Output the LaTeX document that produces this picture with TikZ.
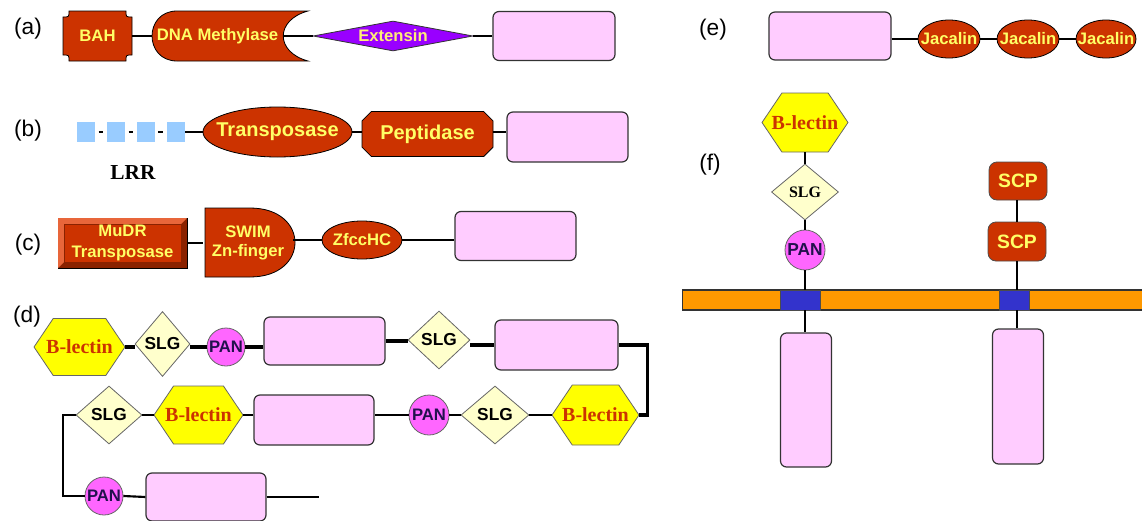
\documentclass[tikz,border=0pt]{standalone}
\usepackage{fontspec}
\setmainfont{Liberation Sans}
\newfontfamily\seriffam{Liberation Serif}
\usetikzlibrary{shapes,backgrounds}
\definecolor{domred}{HTML}{CC3300}
\definecolor{domtext}{HTML}{FFFF66}
\definecolor{exttext}{HTML}{FFEE77}
\definecolor{extpurple}{HTML}{9900FF}
\definecolor{pinkfill}{HTML}{FFCCFF}
\definecolor{boxline}{HTML}{333333}
\definecolor{lrrblue}{HTML}{99CCFF}
\definecolor{hexyellow}{HTML}{FFFF00}
\definecolor{slgfill}{HTML}{FFFFCC}
\definecolor{panfill}{HTML}{FF66FF}
\definecolor{pantext}{HTML}{22114D}
\definecolor{orangebar}{HTML}{FF9900}
\definecolor{tmblue}{HTML}{3333CC}
\definecolor{bevlight}{HTML}{E8663A}
\definecolor{bevdark}{HTML}{8A2200}
\newcommand{\ctext}[1]{\makebox[0pt]{#1}}% text that does not widen its node
\tikzset{
  px/.style 2 args = {minimum width=#1*0.75pt, minimum height=#2*0.75pt},
  dom/.style = {align=center, inner sep=0pt, text centered, text=domtext,
    font=\bfseries\fontsize{12.5}{14}\selectfont},
  redell/.style = {dom, ellipse, fill=domred, draw=black, line width=0.6pt},% ellipse domain
  octo/.style = {dom, chamfered rectangle, chamfered rectangle xsep=9.75pt,
    fill=domred, draw=black, line width=0.6pt},% chamfered domain
  pinkbox/.style = {rectangle, rounded corners=4.5pt, draw=boxline,
    line width=0.9pt, fill=pinkfill, inner sep=0pt},
  hexa/.style = {signal, signal to=east and west, signal pointer angle=112,
    fill=hexyellow, draw=black!60, line width=0.6pt, inner sep=0pt, text=domred,
    font=\seriffam\bfseries\fontsize{15}{16}\selectfont},% B-lectin
  slg/.style = {diamond, fill=slgfill, draw=black!60, line width=0.6pt,
    inner sep=0pt, font=\bfseries\fontsize{13}{14}\selectfont},
  pan/.style = {circle, fill=panfill, draw=black!60, line width=0.6pt,
    inner sep=0pt, text=pantext, font=\bfseries\fontsize{12.5}{14}\selectfont},
  lrr/.style = {rectangle, fill=lrrblue, inner sep=0pt, px={18}{20}},
  scp/.style = {dom, rectangle, rounded corners=6pt, fill=domred, draw=black!70,
    line width=0.6pt, font=\bfseries\fontsize{14.5}{16}\selectfont},
  tmblock/.style = {rectangle, fill=tmblue, draw=black!70, line width=0.6pt, inner sep=0pt},
  panel/.style = {font=\fontsize{17}{19}\selectfont, inner sep=0pt},
  link/.style = {line width=1.6pt},
  thicklink/.style = {line width=2.8pt}
}

\begin{document}
\begin{tikzpicture}[x=0.75pt, y=-0.75pt]
\useasboundingbox (0,0) rectangle (1142,521);

% panel letters
\node[panel] (la) at (28,29) {(a)};
\node[panel] (lb) at (28,131) {(b)};
\node[panel] (lc) at (28,245) {(c)};
\node[panel] (ld) at (27,317) {(d)};
\node[panel] (le) at (713,30) {(e)};
\node[panel] (lf) at (710,165) {(f)};

% (a)
\fill[domred, draw=black, line width=0.6pt] (69,11) -- (126,11) .. controls (126,17) .. (132,17)
  -- (132,55) .. controls (126,55) .. (126,61) -- (69,61) .. controls (69,55) .. (63,55)
  -- (63,17) .. controls (69,17) .. (69,11) -- cycle;
\node[dom, px={69}{50}] (bah) at (97.5,36) {BAH};
\fill[domred, draw=black, line width=0.6pt] (177,11) -- (308,11) .. controls (275,20) and (275,52) .. (308,61)
  -- (177,61) .. controls (143.7,61) and (143.7,11) .. (177,11) -- cycle;
\node[dom, px={131}{50}] (dna) at (217.5,36) {DNA Methylase};
\node[dom, diamond, fill=extpurple, draw=black!80, line width=0.6pt, px={160}{30},
  text=exttext] (ext) at (393,36) {\ctext{Extensin}};
\node[pinkbox, px={122}{49}] (boxa) at (554,36) {};
\draw[link] (bah.east) -- (dna.west);
\draw[link] (dna.east) -- (ext.west);
\draw[link] (ext.east) -- (boxa.west);

% (b)
\node[lrr] (lrr1) at (86,132) {};
\node[lrr] (lrr2) at (116,132) {};
\node[lrr] (lrr3) at (145.5,132) {};
\node[lrr] (lrr4) at (176,132) {};
\node[font=\seriffam\bfseries\fontsize{16}{18}\selectfont] (lrrtxt) at (133,173) {LRR};
\node[redell, px={149}{50}, font=\bfseries\fontsize{15}{16}\selectfont] (trans) at (277.5,132) {\ctext{Transposase}};
\node[octo, px={131}{45}, font=\bfseries\fontsize{15}{16}\selectfont] (pep) at (427.5,134) {\ctext{Peptidase}};
\node[pinkbox, px={121}{50}] (boxb) at (567.5,137) {};
\draw[link, shorten <=2.5pt, shorten >=2.5pt] (lrr1) -- (lrr2);
\draw[link, shorten <=2.5pt, shorten >=2.5pt] (lrr2) -- (lrr3);
\draw[link, shorten <=2.5pt, shorten >=2.5pt] (lrr3) -- (lrr4);
\draw[line width=2pt] (lrr4) -- (trans);
\draw[link] (trans.east) -- (trans.east -| pep.west);
\draw[link] (pep.east |- trans.east) -- (trans.east -| boxb.west);

% (c)
\fill[bevdark, draw=black, line width=0.6pt] (58,218) rectangle (187,268);
\fill[bevlight] (58,218) -- (187,218) -- (181,224) -- (64,224) -- (64,262) -- (58,268) -- cycle;
\fill[domred, draw=bevdark, line width=0.5pt] (64,224) rectangle (181,262);
\node[dom, px={129}{50}, font=\bfseries\fontsize{12.5}{15.5}\selectfont] (mudr) at (122.5,243) {MuDR\\Transposase};
\fill[domred, draw=black, line width=0.6pt] (205,208) -- (250,208) .. controls (310,208) and (310,277) .. (250,277)
  -- (205,277) -- cycle;
\node[dom, px={90}{69}, font=\bfseries\fontsize{12.5}{14.5}\selectfont] (swim) at (248,243) {SWIM\\Zn-finger};
\node[redell, px={80}{38}] (zfc) at (362,240) {\ctext{ZfccHC}};
\node[pinkbox, px={121}{49}] (boxc) at (515.5,236) {};
\draw[link] (mudr.east) -- (swim.west);
\draw[link] (zfc.west -| swim.east) -- (zfc.west);
\draw[link] (zfc.east) -- (zfc.east -| boxc.west);

% (d)
\node[hexa, px={91}{57}] (hexd1) at (79.5,347) {\ctext{B-lectin}};
\node[slg, px={55}{65}] (slgd1) at (162.5,344) {\ctext{SLG}};
\node[pan, px={38}{38}] (pand1) at (226,347) {\ctext{PAN}};
\node[pinkbox, px={121}{48}] (boxd1) at (324.5,341) {};
\node[slg, px={62}{58}] (slgd2) at (439,340) {\ctext{SLG}};
\node[pinkbox, px={123}{50}] (boxd2) at (556.5,345) {};
\node[hexa, px={87}{60}] (hexd3) at (595.5,415) {\ctext{B-lectin}};
\node[slg, px={68}{58}] (slgd3) at (495,415) {\ctext{SLG}};
\node[pan, px={38}{40}] (pand2) at (429,415) {\ctext{PAN}};
\node[pinkbox, px={120}{50}] (boxd3) at (314,420) {};
\node[hexa, px={89}{58}] (hexd2) at (198.5,415) {\ctext{B-lectin}};
\node[slg, px={66}{58}] (slgd4) at (109,415) {\ctext{SLG}};
\node[pan, px={38}{38}] (pand3) at (104,496) {\ctext{PAN}};
\node[pinkbox, px={120}{48}] (boxd4) at (206,497) {};
\coordinate (dend) at (319,497);
\draw[thicklink] (hexd1.east) -- (slgd1.west |- hexd1.east);
\draw[thicklink] (slgd1.east |- pand1.west) -- (pand1.west);
\draw[thicklink] (pand1.east) -- (pand1.east -| boxd1.west);
\draw[thicklink] (boxd1.east) -- (slgd2.west |- boxd1.east);
\draw[thicklink] (slgd2.east |- boxd2.west) -- (boxd2.west);
\draw[thicklink] (boxd2.east) -- ++(29,0) |- (hexd3.east);
\draw[link] (hexd3.west) -- (slgd3.east);
\draw[link] (slgd3.west) -- (pand2.east);
\draw[link] (pand2.west) -- (pand2.west -| boxd3.east);
\draw[link] (boxd3.west |- hexd2.east) -- (hexd2.east);
\draw[link] (hexd2.west) -- (slgd4.east);
\draw[link] (slgd4.west) -- ++(-13,0) |- (pand3.west);
\draw[link] (pand3.east) -- (boxd4.west);
\draw[link] (boxd4.east) -- (dend);

% (e)
\node[pinkbox, px={122}{48}] (boxe) at (830,36) {};
\node[redell, px={62}{38}] (jac1) at (949,39) {\ctext{Jacalin}};
\node[redell, px={62}{38}] (jac2) at (1028,39) {\ctext{Jacalin}};
\node[redell, px={60}{38}] (jac3) at (1106,39) {\ctext{Jacalin}};
\draw[link] (jac1.west -| boxe.east) -- (jac1.west);
\draw[link] (jac1.east) -- (jac2.west);
\draw[link] (jac2.east) -- (jac3.west);

% (f)
\node[fill=orangebar, draw=black!80, line width=0.8pt, inner sep=0pt, px={466}{20},
  anchor=west] (mem) at (682,300) {};
\node[tmblock, px={40}{20}] (tm1) at (800,300) {};
\node[tmblock, px={30}{20}] (tm2) at (1014,300) {};
\node[hexa, px={86}{59}] (hexf) at (805,122.5) {\ctext{B-lectin}};
\node[slg, px={67}{56}, font=\seriffam\bfseries\fontsize{12}{14}\selectfont] (slgf) at (805,192) {\ctext{SLG}};
\node[pan, px={40}{40}, font=\bfseries\fontsize{13}{14}\selectfont] (panf) at (805,250) {\ctext{PAN}};
\node[pinkbox, px={51}{134}] (boxf1) at (806,400) {};
\node[scp, px={58}{38}] (scp1) at (1018,181) {SCP};
\node[scp, px={58}{39}] (scp2) at (1017,241.5) {SCP};
\node[pinkbox, px={51}{135}] (boxf2) at (1018,396.5) {};
\draw[link] (hexf.south) -- (slgf.north);
\draw[link] (slgf.south) -- (panf.north);
\draw[link] (panf.south) -- (panf.south |- tm1.north);
\draw[link] (panf.south |- tm1.south) -- (panf.south |- boxf1.north);
\draw[link] (scp1.south -| scp2.north) -- (scp2.north);
\draw[link] (scp2.south) -- (scp2.south |- tm2.north);
\draw[link] (scp2.south |- tm2.south) -- (scp2.south |- boxf2.north);
\end{tikzpicture}
\end{document}
